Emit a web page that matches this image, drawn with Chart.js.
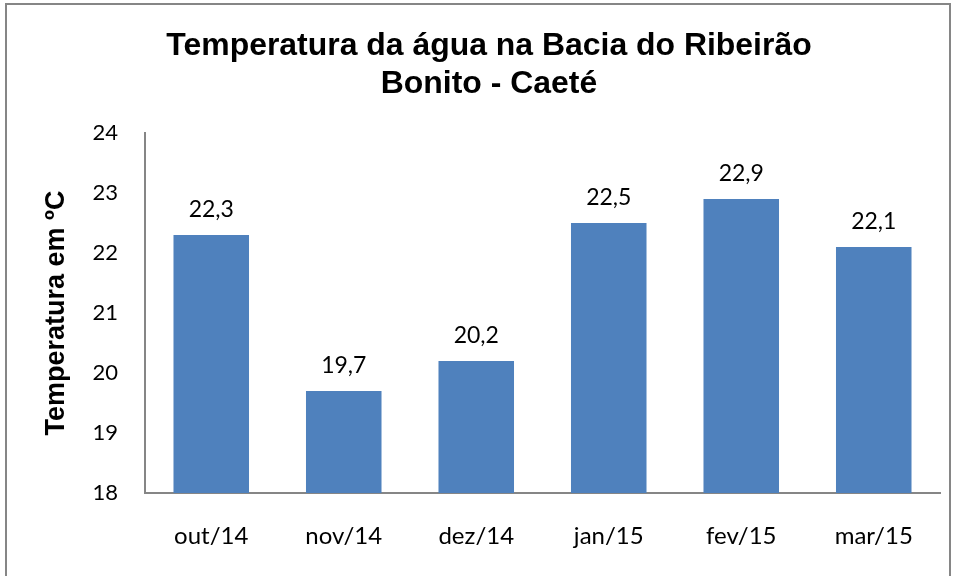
<!DOCTYPE html>
<html>
<head>
<meta charset="utf-8">
<script src="https://cdn.jsdelivr.net/npm/chart.js@4.4.0/dist/chart.umd.min.js"></script>
<style>
  html, body { margin: 0; padding: 0; background: #fff; }
  #wrap { position: relative; width: 957px; height: 576px; }
</style>
</head>
<body>
<div id="wrap"><canvas id="temp"></canvas></div>
<script>
const chartTitle = ['Temperatura da água na Bacia do Ribeirão', 'Bonito - Caeté'];
const months = ['out/14', 'nov/14', 'dez/14', 'jan/15', 'fev/15', 'mar/15'];
const temps = [22.3, 19.7, 20.2, 22.5, 22.9, 22.1];
const yTicks = [18, 19, 20, 21, 22, 23, 24];

const labelFont = "Lato, 'Open Sans', sans-serif";

// outer frame + title (the title in the original is a little wide, so it is stretched a bit)
const frame = {
    id: 'frame',
    beforeDraw(chart) {
        const ctx = chart.ctx;
        ctx.save();
        ctx.fillStyle = '#fff';
        ctx.fillRect(0, 0, chart.width, chart.height);
        ctx.strokeStyle = '#868686';
        ctx.lineWidth = 2;
        ctx.strokeRect(6, 4, 944, 600);
        ctx.restore();
    },
    afterDraw(chart) {
        const ctx = chart.ctx;
        ctx.save();
        ctx.fillStyle = '#000';
        ctx.font = "bold 31px 'Liberation Sans', Arial, sans-serif";
        ctx.textAlign = 'center';
        ctx.textBaseline = 'alphabetic';
        ctx.translate(489, 0);
        ctx.scale(1.03, 1);
        ctx.fillText(chartTitle[0], 0, 55);
        ctx.fillText(chartTitle[1], 0, 93);
        ctx.restore();
    }
};

// values above the bars, with comma decimal
const valueLabels = {
    id: 'valueLabels',
    afterDatasetsDraw(chart) {
        const ctx = chart.ctx;
        const meta = chart.getDatasetMeta(0);
        ctx.save();
        ctx.fillStyle = '#000';
        ctx.font = '23px ' + labelFont;
        ctx.textAlign = 'center';
        ctx.textBaseline = 'alphabetic';
        meta.data.forEach((bar, i) => {
            const txt = temps[i].toFixed(1).replace('.', ',');
            ctx.fillText(txt, bar.x, bar.y - 18);
        });
        ctx.restore();
    }
};

new Chart(document.getElementById('temp'), {
    type: 'bar',
    data: {
        labels: months,
        datasets: [{
            data: temps,
            backgroundColor: '#4F81BD',
            borderWidth: 0,
            barPercentage: 0.57,
            categoryPercentage: 1
        }]
    },
    options: {
        responsive: true,
        maintainAspectRatio: false,
        animation: false,
        layout: { padding: { left: 18, right: 17, top: 133, bottom: 0 } },
        plugins: {
            legend: { display: false },
            tooltip: { enabled: false },
            title: { display: false }
        },
        scales: {
            x: {
                grid: { display: false, drawTicks: false },
                border: { color: '#868686', width: 2 },
                ticks: { color: '#000', font: { family: labelFont, size: 24 }, padding: 29 },
                afterFit(scale) { scale.height = 83; }
            },
            y: {
                min: 18,
                max: 24,
                afterBuildTicks(scale) { scale.ticks = yTicks.map(v => ({ value: v })); },
                grid: { display: false, drawTicks: false },
                border: { color: '#868686', width: 2 },
                ticks: { color: '#000', font: { family: labelFont, size: 22 }, padding: 27 },
                title: {
                    display: true,
                    text: 'Temperatura em ºC',
                    color: '#000',
                    font: { family: "'Liberation Sans', Arial, sans-serif", size: 27, weight: 'bold' },
                    padding: { top: 22, bottom: 0 }
                },
                afterFit(scale) { scale.width = 127; }
            }
        }
    },
    plugins: [frame, valueLabels]
});
</script>
</body>
</html>
